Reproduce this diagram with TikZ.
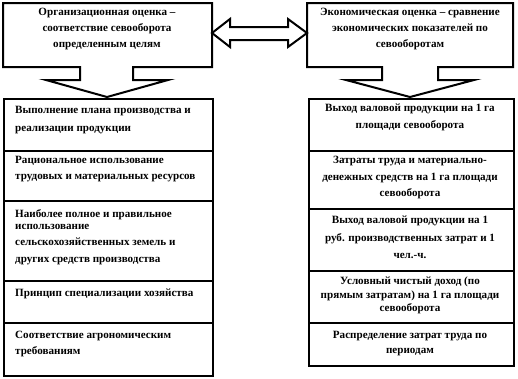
\documentclass[tikz,border=0pt]{standalone}
\usepackage{fontspec}
\setmainfont{Liberation Serif}
\usetikzlibrary{calc}
\begin{document}
\begin{tikzpicture}[x=1pt,y=-1pt,
  boxline/.style={draw=black, line width=2pt, line join=miter},
  rowbox/.style={draw=black, line width=2pt, inner sep=0, anchor=north west},
  ltext/.style={font=\fontsize{11.1}{#1}\selectfont\bfseries, align=left, inner sep=0, anchor=north west},
  ctext/.style={font=\fontsize{11.1}{#1}\selectfont\bfseries, align=center, inner sep=0, anchor=north}]
\useasboundingbox (0,0) rectangle (518,378);
\fill[white] (0,0) rectangle (518,378);

% top-left callout
\draw[boxline] (3,3) -- (212,3) -- (212,67) -- (133,67) -- (133,80) -- (168,80) -- (107,97)
  -- (46,80) -- (80,80) -- (80,67) -- (3,67) -- cycle;
% top-right callout
\draw[boxline] (307,3) -- (513,3) -- (513,67) -- (438,67) -- (438,80) -- (474,80) -- (410,97)
  -- (346,80) -- (382,80) -- (382,67) -- (307,67) -- cycle;
% double arrow
\draw[boxline] (212,33) -- (230,19) -- (230,27) -- (288,27) -- (288,19) -- (307,33)
  -- (288,47) -- (288,40) -- (230,40) -- (230,47) -- cycle;

\node[ctext=16] (tl) at (107,8) {Организационная оценка –\\соответствие севооборота\\определенным целям};
\node[ctext=16] (tr) at (410,8) {Экономическая оценка – сравнение\\экономических показателей по\\севооборотам};

% left column
\node[rowbox, minimum width=209pt, minimum height=52pt] (L1) at (3,98) {};
\node[rowbox, minimum width=209pt, minimum height=50pt] (L2) at (3,150) {};
\node[rowbox, minimum width=209pt, minimum height=80pt] (L3) at (3,200) {};
\node[rowbox, minimum width=209pt, minimum height=42pt] (L4) at (3,280) {};
\node[rowbox, minimum width=209pt, minimum height=53pt] (L5) at (3,322) {};

\node[ltext=18] (l1t) at (15,106) {Выполнение плана производства и\\реализации продукции};
\node[ltext=16] (l2t) at (15,156) {Рациональное использование\\трудовых и материальных ресурсов};
\node[ltext=16.5] (l3t) at (15,209) {Наиболее полное и правильное\\[-4.5pt]использование\\сельскохозяйственных земель и\\других средств производства};
\node[ltext=16] (l4t) at (15,289) {Принцип специализации хозяйства};
\node[ltext=15.5] (l5t) at (15,331) {Соответствие агрономическим\\требованиям};

% right column
\node[rowbox, minimum width=205pt, minimum height=52pt] (R1) at (308,98) {};
\node[rowbox, minimum width=205pt, minimum height=58pt] (R2) at (308,150) {};
\node[rowbox, minimum width=205pt, minimum height=62pt] (R3) at (308,208) {};
\node[rowbox, minimum width=205pt, minimum height=52pt] (R4) at (308,270) {};
\node[rowbox, minimum width=205pt, minimum height=43pt] (R5) at (308,322) {};

\node[ctext=17] (r1t) at (410,104) {Выход валовой продукции на 1 га\\площади севооборота};
\node[ctext=16.5] (r2t) at (410,156) {Затраты труда и материально-\\денежных средств на 1 га площади\\севооборота};
\node[ctext=17.5] (r3t) at (410,216) {Выход валовой продукции на 1\\руб. производственных затрат и 1\\чел.-ч.};
\node[ctext=13.5] (r4t) at (410,277) {Условный чистый доход (по\\прямым затратам) на 1 га площади\\севооборота};
\node[ctext=15] (r5t) at (410,331) {Распределение затрат труда по\\периодам};
\end{tikzpicture}
\end{document}
